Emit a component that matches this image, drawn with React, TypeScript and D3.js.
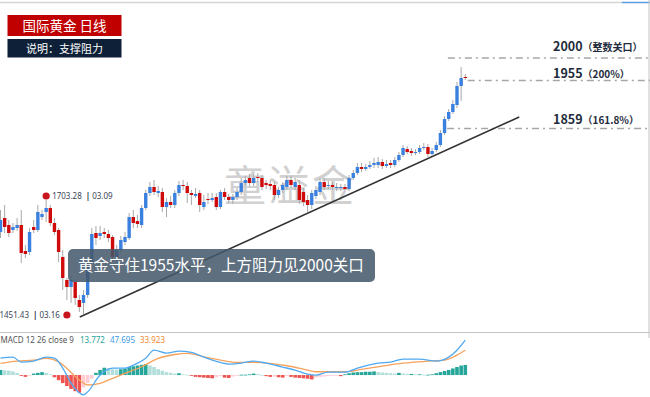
import * as d3 from 'd3';

// daily gold candles, oldest first
const opens = [1652, 1680, 1666, 1656, 1660, 1666, 1614, 1612, 1662, 1656, 1682, 1692, 1700, 1670, 1656, 1602, 1556, 1542, 1552, 1516,
  1510, 1526, 1592, 1650, 1644, 1652, 1648, 1642, 1602, 1616, 1632, 1640, 1682, 1674, 1666, 1700, 1730, 1742, 1730, 1732,
  1702, 1712, 1706, 1730, 1746, 1744, 1730, 1724, 1730, 1702, 1718, 1716, 1722, 1702, 1732, 1722, 1716, 1722, 1732, 1750,
  1760, 1750, 1762, 1760, 1750, 1748, 1746, 1726, 1736, 1742, 1756, 1742, 1746, 1732, 1716, 1706, 1724, 1732, 1752, 1744,
  1746, 1740, 1740, 1742, 1738, 1760, 1770, 1782, 1778, 1782, 1786, 1786, 1792, 1784, 1790, 1786, 1796, 1806, 1818, 1814,
  1810, 1812, 1820, 1822, 1808, 1816, 1826, 1850, 1878, 1892, 1906, 1944, 1962];
const highs = [1696, 1706, 1676, 1670, 1680, 1696, 1626, 1660, 1676, 1706, 1696, 1716, 1706, 1680, 1660, 1616, 1560, 1566, 1556, 1526,
  1536, 1592, 1660, 1664, 1664, 1660, 1656, 1646, 1626, 1644, 1652, 1690, 1696, 1686, 1706, 1736, 1752, 1756, 1744, 1740,
  1720, 1724, 1736, 1754, 1756, 1752, 1736, 1740, 1736, 1726, 1730, 1730, 1730, 1736, 1740, 1728, 1728, 1740, 1760, 1764,
  1768, 1768, 1770, 1766, 1756, 1756, 1752, 1742, 1752, 1764, 1764, 1760, 1756, 1740, 1726, 1736, 1744, 1760, 1760, 1754,
  1752, 1750, 1748, 1748, 1766, 1776, 1790, 1790, 1788, 1794, 1800, 1802, 1798, 1796, 1796, 1802, 1812, 1826, 1824, 1820,
  1818, 1826, 1830, 1828, 1820, 1832, 1856, 1884, 1898, 1916, 1952, 1982, 1968];
const lows = [1640, 1650, 1642, 1650, 1654, 1590, 1600, 1606, 1650, 1652, 1676, 1672, 1664, 1646, 1592, 1536, 1516, 1510, 1506, 1492,
  1488, 1520, 1586, 1626, 1636, 1640, 1632, 1592, 1592, 1610, 1626, 1636, 1660, 1660, 1660, 1696, 1724, 1726, 1722, 1692,
  1682, 1700, 1700, 1724, 1736, 1710, 1706, 1720, 1692, 1696, 1708, 1712, 1696, 1698, 1716, 1710, 1708, 1716, 1726, 1744,
  1744, 1744, 1752, 1736, 1738, 1736, 1716, 1720, 1730, 1736, 1740, 1736, 1708, 1704, 1692, 1698, 1718, 1726, 1736, 1738,
  1736, 1734, 1734, 1732, 1734, 1756, 1766, 1772, 1774, 1778, 1780, 1780, 1778, 1780, 1780, 1782, 1792, 1802, 1808, 1804,
  1806, 1808, 1816, 1802, 1804, 1812, 1822, 1846, 1874, 1888, 1900, 1914, 1956];
const closes = [1676, 1662, 1650, 1662, 1666, 1610, 1608, 1652, 1656, 1692, 1688, 1700, 1670, 1652, 1612, 1560, 1542, 1556, 1520, 1502,
  1526, 1582, 1648, 1640, 1650, 1648, 1640, 1602, 1616, 1636, 1642, 1682, 1670, 1668, 1700, 1730, 1742, 1732, 1734, 1702,
  1712, 1706, 1730, 1746, 1744, 1730, 1726, 1728, 1706, 1712, 1716, 1720, 1702, 1732, 1722, 1716, 1722, 1732, 1750, 1756,
  1750, 1760, 1760, 1742, 1746, 1744, 1726, 1736, 1746, 1756, 1746, 1752, 1716, 1712, 1706, 1730, 1736, 1752, 1742, 1746,
  1742, 1742, 1742, 1738, 1760, 1770, 1782, 1778, 1782, 1786, 1790, 1792, 1784, 1788, 1786, 1796, 1806, 1820, 1812, 1810,
  1812, 1820, 1822, 1808, 1814, 1826, 1850, 1878, 1892, 1908, 1944, 1960, 1960];

// MACD(12,26,9): [bar index, value]
const macdPts: [number, number][] = [[0, 23], [3, 24.5], [5, 17.7], [8, 19], [11, 24.5], [13, 23], [15, 9.5], [17, -11], [20, -27],
  [21, -23], [24, 0], [27, 9.5], [30, 9.5], [32, 13.6], [35, 23], [37, 34], [40, 30], [43, 32.6], [46, 31], [49, 24.5],
  [51, 20.4], [55, 15], [58, 16.3], [61, 19], [64, 16.3], [68, 10.9], [71, 6.8], [74, 1.4], [76, 0], [79, 4], [83, 4],
  [86, 9.5], [91, 16.3], [94, 17.7], [97, 21.8], [101, 21.8], [105, 19], [108, 24.5], [110, 34], [112, 47.7]];
const signalPts: [number, number][] = [[0, 15.9], [4, 19], [8, 20.4], [11, 22.7], [14, 18.1], [16, 9], [19, -6.8], [21, -13.6],
  [24, -11.3], [27, -4.5], [30, 2.3], [34, 11.3], [38, 22.7], [42, 28.1], [45, 29.5], [49, 24.9], [53, 20.4], [57, 17.2],
  [61, 17.2], [65, 15.9], [69, 12.7], [73, 8.2], [76, 4.5], [79, 4.5], [83, 4.5], [87, 7.7], [91, 11.3], [95, 15], [99, 17.2],
  [104, 19.5], [107, 20.4], [110, 27.2], [112, 33.9]];
const hist = [7, 6.5, 6, 5, 3, -1, -2.5, -1, 2, 3, 4, 3, 1, -3, -7, -11, -15, -19, -22, -24,
  -17, -11, -5, 3, 7, 10, 9.5, 8, 7.5, 8, 9, 11, 12, 13, 14, 15, 13, 11, 8, 6,
  4, 3, 2, 2.5, 1, 0.5, -1, -2.5, -3, -3.5, -4, -4.5, -3, -1.5, -3.5, -4, -2, -1, 0.5, 0.5,
  1, 2, 1.5, 0, -1.5, -2.5, -2, -3, -3.5, -1.5, -2.5, -3.5, -4, -4.5, -5, -6, -3.5, -2.5, -2, -1.5,
  -1, -0.5, -1.5, 1, 2.5, 3.5, 4, 4, 4.5, 4.5, 5, 4, 3.5, 3, 2.5, 2, 3, 2, 1.5, 1.5,
  1, 1, 0.5, 0.5, 1, 2.5, 4, 5.5, 7, 9, 11, 13, 13.8];
const macdLegend = ['13.772', '47.695', '33.923'];

// support / resistance
const levels = [2000, 1955, 1859];
const levelNotes = ['（整数关口）', '（200%）', '（161.8%）'];
const levelFrom = [107.8, 112.6, 107.6];
const trendLine: [number, number][] = [[19.1, 1482], [125, 1882]];
const markers = [
  { i: 11, price: 1724, value: '1703.28', date: '03.09', side: 'right' },
  { i: 16, price: 1486, value: '1451.43', date: '03.16', side: 'left' },
];

const W = 650;
const H = 397;
const UP = '#3a80df';
const DOWN = '#cf0a0a';
const CJK = '"Noto Sans CJK SC", "Noto Sans", sans-serif';

export default function App() {
  const x = d3.scaleLinear().domain([0, 112]).range([0.5, 465.3]);
  const y = d3.scaleLinear().domain([1450, 2000]).range([333, 58]);
  const my = d3.scaleLinear().domain([-30, 52]).range([397, 337]);

  const line = d3
    .line<[number, number]>()
    .x((d) => x(d[0]))
    .y((d) => my(d[1]))
    .curve(d3.curveMonotoneX);

  const histColor = (v: number, prev: number) =>
    v >= 0 ? (v >= prev ? '#26a69a' : '#b2dfdb') : v <= prev ? '#ef5350' : '#ffcdd2';

  const levelDy = [-7, -3, -5];

  return (
    <svg width={W} height={H} style={{ position: 'absolute', left: 0, top: 0, background: '#fff' }}>
      {/* frame */}
      <line x1={0} x2={622} y1={2.5} y2={2.5} stroke="#d4d4d4" strokeWidth={1.5} />
      <line x1={622} x2={W} y1={2.5} y2={2.5} stroke="#5b9be0" strokeWidth={1.5} />
      <line x1={649} x2={649} y1={0} y2={338} stroke="#c4c4c4" />
      <line x1={0} x2={W} y1={332.5} y2={332.5} stroke="#c4c4c4" />

      {/* watermark */}
      <text x={224} y={201} fontSize={42} fill="#bdbdbd" fillOpacity={0.7} fontFamily={CJK} letterSpacing={2}>
        童溢金
      </text>

      {/* levels */}
      {levels.map((lv, k) => (
        <g key={lv}>
          <line x1={x(levelFrom[k])} x2={W} y1={y(lv)} y2={y(lv)} stroke="#a6a6a6" strokeWidth={1.4}
            strokeDasharray="7 4 2 4" />
          <text x={553} y={y(lv) + levelDy[k]} fill="#1e2b3c" fontFamily={CJK} fontWeight={700}>
            <tspan fontSize={12.5}>{lv}</tspan>
            <tspan fontSize={10}>{levelNotes[k]}</tspan>
          </text>
        </g>
      ))}

      {/* trend line */}
      <line x1={x(trendLine[0][0])} y1={y(trendLine[0][1])} x2={x(trendLine[1][0])} y2={y(trendLine[1][1])}
        stroke="#333" strokeWidth={1.6} />

      {/* candles */}
      {opens.map((o, i) => {
        const c = closes[i];
        const cx = x(i);
        const top = y(Math.max(o, c));
        const bot = y(Math.min(o, c));
        return (
          <g key={i}>
            <line x1={cx} x2={cx} y1={y(highs[i])} y2={y(lows[i])} stroke="#a9a9a9" strokeWidth={1} />
            <rect x={cx - 1.7} y={top} width={3.4} height={Math.max(1, bot - top)} fill={c >= o ? UP : DOWN} />
          </g>
        );
      })}

      {/* high / low markers */}
      {markers.map((m) => {
        const mx = x(m.i);
        const myy = y(m.price);
        const right = m.side === 'right';
        return (
          <g key={m.value}>
            <circle cx={mx} cy={myy} r={3.6} fill="#c8141e" />
            <text x={right ? mx + 6 : mx - 7} y={myy + 3} textAnchor={right ? 'start' : 'end'} fontSize={8}
              fontFamily='"Noto Sans", sans-serif' fill="#3a4656">
              {m.value}
              <tspan dx={4} fill="#1e2b3c" fontWeight={700}>|</tspan>
              <tspan dx={2}>{m.date}</tspan>
            </text>
          </g>
        );
      })}

      {/* comment box */}
      <rect x={68} y={249} width={307} height={33} rx={5} fill="#44576a" fillOpacity={0.86} />
      <text x={78} y={271} fontSize={15.5} fill="#fff" fontFamily={CJK}>
        黄金守住1955水平，上方阻力见2000关口
      </text>

      {/* title */}
      <rect x={7.5} y={15} width={114} height={21} fill="#c00000" />
      <text x={64.5} y={30.5} textAnchor="middle" fontSize={13.5} fill="#fff" fontFamily={CJK}>
        国际黄金 日线
      </text>
      <rect x={7.5} y={39} width={114} height={18.5} fill="#0e1f38" />
      <text x={64.5} y={52.5} textAnchor="middle" fontSize={11} fill="#fff" fontFamily={CJK}>
        说明：支撑阻力
      </text>

      {/* MACD pane */}
      {hist.map((v, i) => {
        const prev = i > 0 ? hist[i - 1] : v;
        const y0 = my(0);
        const yv = my(v);
        return (
          <rect key={i} x={x(i) - 1.8} width={3.6} y={Math.min(y0, yv)} height={Math.max(0.8, Math.abs(yv - y0))}
            fill={histColor(v, prev)} />
        );
      })}
      <path d={line(signalPts) || ''} fill="none" stroke="#f7a35c" strokeWidth={1.3} />
      <path d={line(macdPts) || ''} fill="none" stroke="#4fa9f2" strokeWidth={1.3} />
      <text x={0.5} y={343} fontSize={8} fontFamily='"Noto Sans", sans-serif' fill="#555">
        MACD 12 26 close 9
        <tspan dx={6} fill="#26a69a">{macdLegend[0]}</tspan>
        <tspan dx={5} fill="#3d9ae8">{macdLegend[1]}</tspan>
        <tspan dx={5} fill="#f08a30">{macdLegend[2]}</tspan>
      </text>
    </svg>
  );
}
